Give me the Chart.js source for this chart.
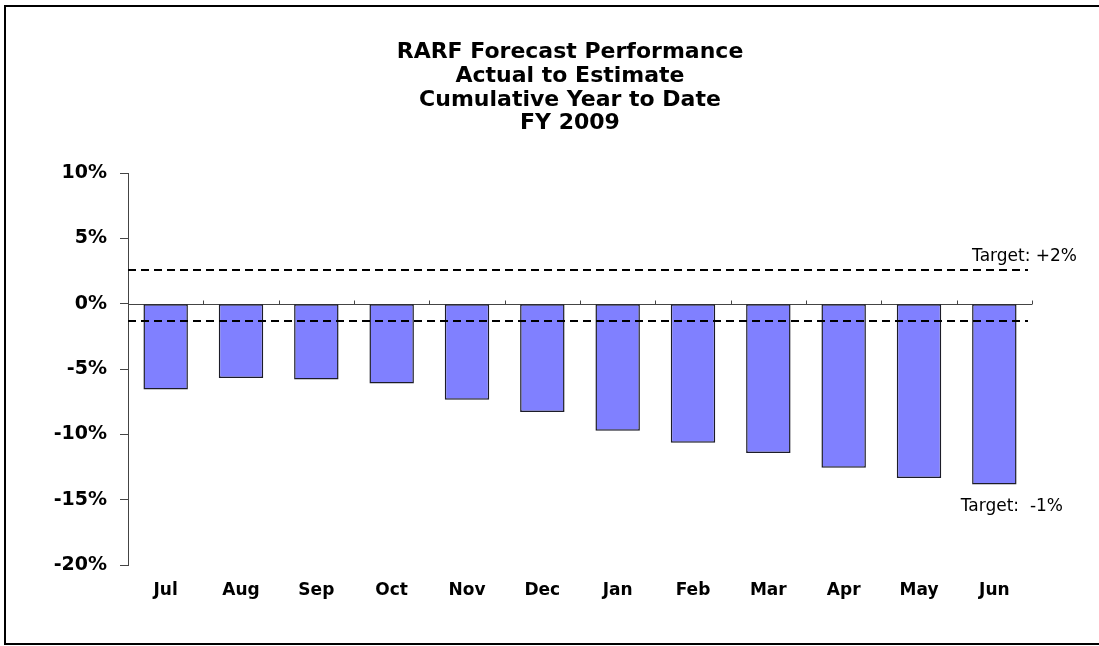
<!DOCTYPE html>
<html>
<head>
<meta charset="utf-8">
<script src="https://cdn.jsdelivr.net/npm/chart.js@4.4.1/dist/chart.umd.min.js"></script>
<style>
  html, body { margin: 0; padding: 0; background: #fff; }
  #wrap { position: relative; width: 1099px; height: 646px; }
</style>
</head>
<body>
<div id="wrap"><canvas id="c" width="1099" height="646"></canvas></div>
<script>
const months = ['Jul','Aug','Sep','Oct','Nov','Dec','Jan','Feb','Mar','Apr','May','Jun'];
const ytdPct = [-6.56, -5.69, -5.79, -6.10, -7.35, -8.29, -9.72, -10.64, -11.43, -12.55, -13.34, -13.83];
const yTicks = [-20, -15, -10, -5, 0, 5, 10];
const targetLines = [2.55, -1.33];
const targetLabels = ['Target: +2%', 'Target:  -1%'];
const targetLabelAt = [3.6, -15.5];
const titleLines = ['RARF Forecast Performance', 'Actual to Estimate', 'Cumulative Year to Date', 'FY 2009'];

const FONT = '"DejaVu Sans", "Liberation Sans", Arial, sans-serif';

const decor = {
  id: 'decor',
  beforeDraw(chart) {
    const ctx = chart.ctx;
    ctx.save();
    ctx.strokeStyle = '#000';
    ctx.lineWidth = 2;
    ctx.strokeRect(5, 6, 1110, 638);
    ctx.restore();
  },
  beforeDatasetsDraw(chart) {
    const ctx = chart.ctx, x = chart.scales.x, y = chart.scales.y, a = chart.chartArea;
    const y0 = Math.round(y.getPixelForValue(0)) + 0.5;
    ctx.save();
    ctx.strokeStyle = '#444';
    ctx.lineWidth = 1;
    ctx.beginPath();
    ctx.moveTo(a.left, y0);
    ctx.lineTo(a.right, y0);
    const n = months.length;
    const half = (x.getPixelForValue(1) - x.getPixelForValue(0)) / 2;
    for (let i = 0; i <= n; i++) {
      const px = Math.round(x.getPixelForValue(Math.min(i, n - 1)) + (i === n ? half : -half)) + 0.5;
      ctx.moveTo(px, y0);
      ctx.lineTo(px, y0 - 4);
    }
    ctx.stroke();
    ctx.restore();
  },
  afterDatasetsDraw(chart) {
    const ctx = chart.ctx, y = chart.scales.y, a = chart.chartArea;
    ctx.save();
    ctx.strokeStyle = '#000';
    ctx.lineWidth = 2;
    ctx.setLineDash([8, 5]);
    targetLines.forEach(v => {
      const py = Math.round(y.getPixelForValue(v));
      ctx.beginPath();
      ctx.moveTo(a.left, py);
      ctx.lineTo(a.right - 4, py);
      ctx.stroke();
    });
    ctx.setLineDash([]);
    ctx.fillStyle = '#000';
    ctx.font = '17px ' + FONT;
    ctx.textAlign = 'right';
    ctx.textBaseline = 'middle';
    const rightOff = [45, 31];
    targetLabels.forEach((t, i) => {
      ctx.fillText(t, a.right + rightOff[i], y.getPixelForValue(targetLabelAt[i]));
    });
    ctx.restore();
  }
};

new Chart(document.getElementById('c'), {
  type: 'bar',
  data: {
    labels: months,
    datasets: [{
      data: ytdPct,
      backgroundColor: '#8080FF',
      borderColor: '#1c1c28',
      borderWidth: 1.5,
      borderSkipped: false,
      categoryPercentage: 1,
      barPercentage: 0.59
    }]
  },
  options: {
    responsive: false,
    animation: false,
    devicePixelRatio: 1,
    layout: { padding: { top: 32, left: 45, right: 4, bottom: 31 } },
    plugins: {
      legend: { display: false },
      tooltip: { enabled: false },
      title: {
        display: true,
        text: titleLines,
        color: '#000',
        font: { family: FONT, size: 22, weight: 'bold', lineHeight: 1.07 },
        padding: { top: 9, bottom: 38 }
      }
    },
    scales: {
      x: {
        grid: { display: false, drawTicks: false },
        border: { display: false },
        afterFit(s) { s.height = 50; },
        ticks: {
          color: '#000',
          font: { family: FONT, size: 17, weight: 'bold' },
          padding: 15,
          maxRotation: 0,
          autoSkip: false
        }
      },
      y: {
        min: -20,
        max: 10,
        afterFit(s) { s.width = 83; },
        afterBuildTicks(s) { s.ticks = yTicks.map(v => ({ value: v })); },
        grid: { drawOnChartArea: false, drawTicks: true, tickLength: 8, color: '#444' },
        border: { display: true, color: '#444', width: 1 },
        ticks: {
          color: '#000',
          font: { family: FONT, size: 19, weight: 'bold' },
          padding: 13,
          autoSkip: false,
          callback: v => v + '%'
        }
      },
      y2: {
        position: 'right',
        min: -20,
        max: 10,
        afterFit(s) { s.width = 63; },
        grid: { display: false, drawTicks: false },
        border: { display: false },
        ticks: { display: false }
      }
    }
  },
  plugins: [decor]
});
</script>
</body>
</html>
